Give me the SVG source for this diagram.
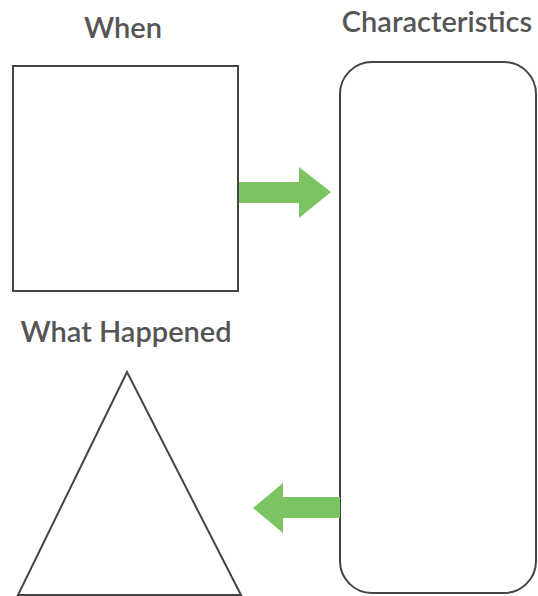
<svg xmlns="http://www.w3.org/2000/svg" width="538" height="596" viewBox="0 0 538 596">
<style>
.lbl{font-family:Lato,"Open Sans","Liberation Sans",sans-serif;font-size:29px;font-weight:600;fill:#555;text-anchor:middle}
.shape{fill:#fff;stroke:#454545;stroke-width:2}
.arrow{fill:#7cc462;stroke:none}
</style>
<rect width="538" height="596" fill="#fff"/>
<g id="when">
<text class="lbl" x="123" y="38">When</text>
<rect class="shape" x="13" y="66" width="225" height="225"/>
</g>
<g id="characteristics">
<text class="lbl" x="437" y="32">Characteristics</text>
<rect class="shape" x="340" y="62" width="196" height="531" rx="32" ry="32"/>
</g>
<g id="what-happened">
<text class="lbl" x="126" y="342">What Happened</text>
<polygon class="shape" points="127,372 18,595 241,595"/>
</g>
<g id="connectors">
<polygon class="arrow" points="239,182 299,182 299,167 331,192 299,218 299,203 239,203"/>
<polygon class="arrow" points="340,497 283,497 283,483 253,508 283,533 283,518 340,518"/>
</g>
</svg>
